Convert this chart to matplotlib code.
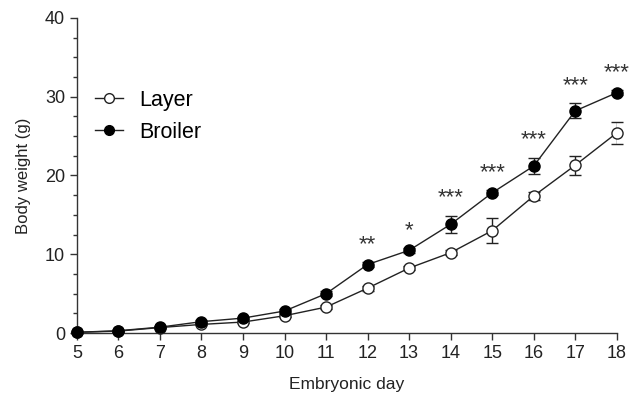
import matplotlib
matplotlib.use("Agg")
import matplotlib.pyplot as plt
from matplotlib.lines import Line2D
import numpy as np

plt.rcParams['font.family'] = ['Liberation Sans', 'DejaVu Sans']

days = [5, 6, 7, 8, 9, 10, 11, 12, 13, 14, 15, 16, 17, 18]
layer = [0.1, 0.25, 0.7, 1.1, 1.4, 2.2, 3.3, 5.7, 8.25, 10.2, 13.0, 17.4, 21.3, 25.4]
layer_err = [0.05, 0.05, 0.1, 0.1, 0.15, 0.2, 0.3, 0.3, 0.3, 0.3, 1.6, 0.5, 1.2, 1.4]
broiler = [0.1, 0.3, 0.75, 1.45, 1.9, 2.8, 5.0, 8.7, 10.5, 13.8, 17.8, 21.2, 28.2, 30.5]
broiler_err = [0.05, 0.05, 0.1, 0.15, 0.15, 0.2, 0.3, 0.3, 0.3, 1.1, 0.3, 1.05, 0.95, 0.3]
sig = ['', '', '', '', '', '', '', '**', '*', '***', '***', '***', '***', '***']

ink = '#222222'
fig = plt.figure(figsize=(6.3, 3.97), dpi=100)
ax = fig.add_axes([0.122, 0.161, 0.857, 0.794])

ax.errorbar(days, layer, yerr=layer_err, color=ink, lw=1.0, marker='o',
            ms=8, mfc='white', mec=ink, mew=1.0, capsize=4, elinewidth=1.0,
            capthick=1.0, zorder=3)
ax.errorbar(days, broiler, yerr=broiler_err, color=ink, lw=1.0, marker='o',
            ms=8, mfc='black', mec='black', mew=1.0, capsize=4, elinewidth=1.0,
            capthick=1.0, zorder=3)

for d, b, e, s in zip(days, broiler, broiler_err, sig):
    if s:
        ax.text(d, b + e + 0.9, s, ha='center', va='bottom', fontsize=16,
                color='#333333')

ax.set_xlim(5, 18)
ax.set_ylim(0, 40)
ax.set_xticks(days)
ax.set_yticks([0, 10, 20, 30, 40])
ax.set_yticks(np.arange(0, 40.1, 2.5), minor=True)
ax.tick_params(axis='both', which='major', labelsize=13, length=5,
               width=1.0, color='#333333', labelcolor=ink, direction='out')
ax.tick_params(axis='y', which='minor', length=3, width=1.0, color='#333333')
for sp in ['top', 'right']:
    ax.spines[sp].set_visible(False)
for sp in ['left', 'bottom']:
    ax.spines[sp].set_linewidth(1.0)
    ax.spines[sp].set_color('#333333')
    ax.spines[sp].set_zorder(1)

ax.set_xlabel('Embryonic day', fontsize=12.5, color=ink, labelpad=11)
ax.set_ylabel('Body weight (g)', fontsize=12, color=ink, labelpad=10)

handles = [
    Line2D([], [], color=ink, lw=1.0, marker='o', ms=7, mfc='white', mec=ink),
    Line2D([], [], color=ink, lw=1.0, marker='o', ms=7, mfc='black', mec='black'),
]
ax.legend(handles, ['Layer', 'Broiler'], loc='upper left',
          bbox_to_anchor=(95 / 630, 1 - 90 / 397), bbox_transform=fig.transFigure,
          frameon=False, fontsize=15.5, handlelength=1.3, handletextpad=0.75,
          labelspacing=0.5, borderpad=0, borderaxespad=0)
for line in ax.lines:
    line.set_clip_on(False)

fig.savefig('out.png', dpi=100)
